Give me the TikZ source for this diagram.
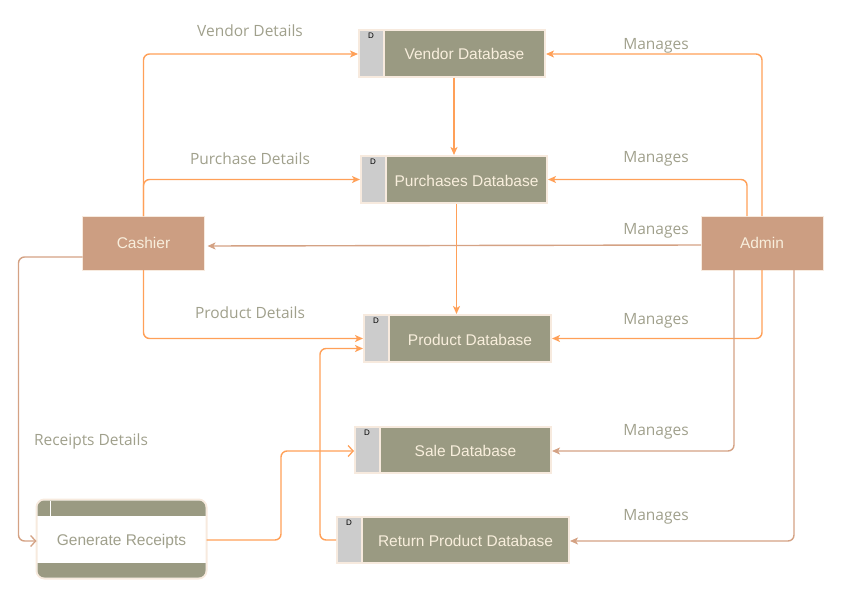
\documentclass[tikz,border=0pt]{standalone}
\usepackage{fontspec}
\setmainfont{Liberation Sans}
\newfontfamily\lblfont{Open Sans}
\usetikzlibrary{calc,arrows.meta}
\definecolor{olivec}{RGB}{154,154,130}
\definecolor{grayc}{RGB}{204,204,204}
\definecolor{beigec}{RGB}{247,234,222}
\definecolor{tanc}{RGB}{204,158,130}
\definecolor{orangec}{RGB}{255,160,88}
\definecolor{tanline}{RGB}{212,162,132}
\definecolor{lblc}{RGB}{160,160,140}
\definecolor{creamc}{RGB}{248,238,220}
\tikzset{
  storeout/.style={fill=beigec, inner sep=0pt, outer sep=0pt, anchor=north west},
  storetext/.style={text=creamc, font=\fontsize{15.5}{18}\selectfont, inner sep=0pt},
  dlabel/.style={text=black, font=\fontsize{8}{9}\selectfont, inner sep=0pt},
  actor/.style={fill=tanc, draw=beigec, line width=1pt, text=creamc, font=\fontsize{15.5}{18}\selectfont, minimum width=122pt, minimum height=54pt, inner sep=0pt, outer sep=0pt},
  grbox/.style={fill=white, draw=beigec, line width=2pt, rounded corners=8pt, minimum width=170pt, minimum height=79pt, inner sep=0pt, outer sep=0pt, text=lblc, font=\fontsize{15.5}{18}\selectfont},
  lbl/.style={text=lblc, font=\lblfont\fontsize{15.5}{18}\selectfont, inner sep=0pt},
  oline/.style={draw=orangec, line width=1.4pt, rounded corners=6pt, -{Stealth[length=8pt,width=7pt,inset=2pt]}},
  tline/.style={draw=tanline, line width=1.4pt, rounded corners=6pt, -{Stealth[length=8pt,width=7pt,inset=2pt]}},
  openarr/.style={-{Straight Barb[length=5pt,width=11pt,line width=1.3pt]}}
}
\newcommand\dstore[6]{%
  \node[storeout, minimum width=#4pt, minimum height=#5pt] (#1) at (#2,#3) {};
  \fill[grayc] ($(#1.north west)+(2,2)$) rectangle ($(#1.south west)+(25,-2)$);
  \fill[olivec] ($(#1.north west)+(27,2)$) rectangle ($(#1.south east)+(-2,-2)$);
  \node[storetext] (#1-t) at ($(#1.center)+(12.5,1)$) {#6};
  \node[dlabel] at ($(#1.north west)+(13,7)$) {D};
}
\begin{document}
\begin{tikzpicture}[x=1pt,y=-1pt]
\useasboundingbox (0,0) rectangle (859,605);

\dstore{vendor}{358}{28.5}{188}{49}{Vendor Database}
\dstore{purch}{360}{155}{188}{49}{Purchases Database}
\dstore{product}{363}{314}{189}{49}{Product Database}
\dstore{sale}{354}{426}{198}{48}{Sale Database}
\dstore{return}{336}{516}{234}{48}{Return Product Database}

\node[actor] (cashier) at (143.5,243) {\raisebox{-1pt}{Cashier}};
\node[actor] (admin) at (762,243) {\raisebox{-1pt}{Admin}};

\node[grbox] (gr) at (121.5,539) {};
\begin{scope}
  \clip[rounded corners=7pt] ($(gr.north west)+(1,1)$) rectangle ($(gr.south east)+(-1,-1)$);
  \fill[olivec] (gr.north west) rectangle ($(gr.north east)+(0,16)$);
  \fill[olivec] ($(gr.south west)+(0,-16)$) rectangle (gr.south east);
\end{scope}
\draw[white, line width=1.5pt] ($(gr.north west)+(14,1)$) -- ++(0,15);
\node[text=lblc, font=\fontsize{15.5}{18}\selectfont, inner sep=0pt] (gr-t) at ($(gr.center)+(0,2.5)$) {Generate Receipts};

% Cashier connectors
\draw[oline] (cashier.north) |- ($(vendor.west)+(0,1)$);
\draw[oline] (cashier.north) |- (purch.west);
\draw[oline] (cashier.south) |- (product.west);
\draw[tline, openarr] ($(cashier.west)+(0,14)$) -| ($(gr.west)+(-18,2)$) -- ($(gr.west)+(0,2)$);

% Admin connectors
\draw[tline, shorten >=3pt] ($(admin.west)+(0,2)$) -- ($(cashier.east)+(0,3)$);
\draw[oline] (admin.north) |- ($(vendor.east)+(0,1)$);
\draw[oline] ($(admin.north)+(-15,0)$) |- (purch.east);
\draw[oline] (admin.south) |- (product.east);
\draw[tline] ($(admin.south)+(-28,0)$) |- ($(sale.east)+(0,1)$);
\draw[tline] ($(admin.south)+(32,0)$) |- ($(return.east)+(0,1)$);

% Store-to-store
\draw[oline] (purch.north |- vendor.south) -- (purch.north);
\draw[oline] ($(product.north |- purch.south)+(-1,0)$) -- ($(product.north)+(-1,0)$);
\draw[oline] (return.west) -| ($(product.west)+(-43,10)$) -- ($(product.west)+(0,10)$);
\draw[oline, openarr] ($(gr.east)+(0,1)$) -| ($(sale.west)+(-73,1)$) -- ($(sale.west)+(0,1)$);

% Labels
\node[lbl] (l1) at (250,30.5) {Vendor Details};
\node[lbl] (l2) at (250,158.5) {Purchase Details};
\node[lbl] (l3) at (250,312.5) {Product Details};
\node[lbl] (l4) at (91,441.5) {Receipts Details};
\node[lbl] (m1) at (656,45.5) {Manages};
\node[lbl] (m2) at (656,158.5) {Manages};
\node[lbl] (m3) at (656,230.5) {Manages};
\node[lbl] (m4) at (656,320.5) {Manages};
\node[lbl] (m5) at (656,431.5) {Manages};
\node[lbl] (m6) at (656,516.5) {Manages};
\end{tikzpicture}
\end{document}
